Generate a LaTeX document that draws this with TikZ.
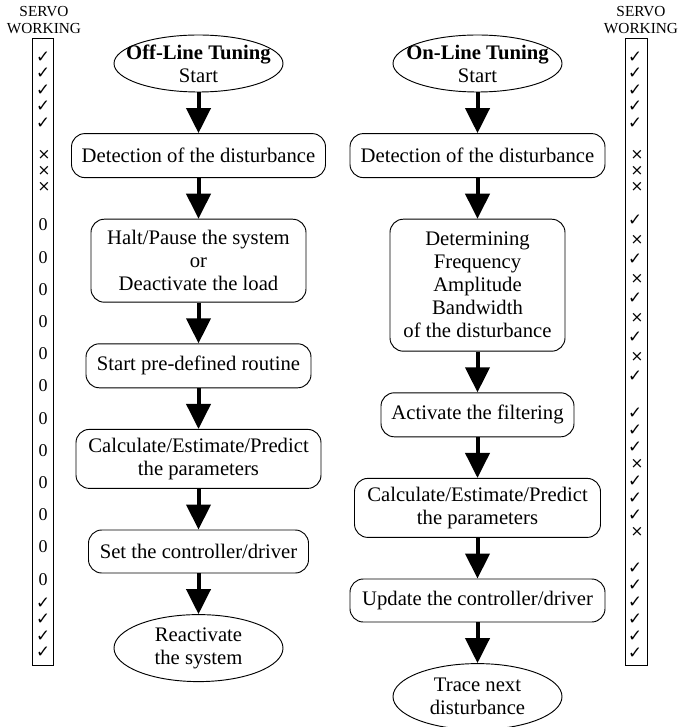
\documentclass[tikz,border=0pt]{standalone}
\usepackage{fontspec}
\setmainfont{Liberation Serif}
\newfontfamily\marksfont{DejaVu Sans}
\usetikzlibrary{positioning,shapes.geometric,arrows.meta}

\begin{document}
\begin{tikzpicture}[
   x=0.75pt,y=-0.75pt,
   font=\fontsize{15.5}{17.25}\selectfont,
   node distance=30.5pt,
   proc/.style={draw,line width=0.7pt,rounded corners=10pt,inner sep=2pt,align=center},
   term/.style={draw,line width=0.7pt,ellipse,inner sep=0pt,minimum width=126.75pt},
   flow/.style={-{Triangle[length=18.75pt,width=18pt]},line width=3pt},
   servo/.style={draw,line width=0.7pt,minimum width=16pt,minimum height=470.25pt,inner sep=0pt},
   servolab/.style={align=center,font=\fontsize{11.5}{12.75}\selectfont},
   ok/.style={font=\marksfont\fontsize{12.5}{12.5}\selectfont,inner sep=0pt},
   no/.style={font=\marksfont\fontsize{11.5}{11.5}\selectfont,inner sep=0pt},
   idle/.style={font=\fontsize{13.5}{13.5}\selectfont,inner sep=0pt}]
\useasboundingbox (0,0) rectangle (681,727);

% off-line tuning
\node[term,minimum height=42.75pt] (l0) at (198.5,63.5) {};
\node[align=center] (l0t) at (l0) {\textbf{Off-Line Tuning}\\Start};
\node[proc,below=of l0,minimum width=190.5pt,minimum height=33pt] (l1) {Detection of the disturbance};
\node[proc,below=of l1,minimum width=161.25pt,minimum height=62.25pt] (l2) {Halt/Pause the system\\or\\Deactivate the load};
\node[proc,below=of l2,minimum width=168.75pt,minimum height=33pt] (l3) {Start pre-defined routine};
\node[proc,below=of l3,minimum width=183.75pt,minimum height=44.25pt] (l4) {Calculate/Estimate/Predict\\the parameters};
\node[proc,below=of l4,minimum width=165pt,minimum height=32.25pt] (l5) {Set the controller/driver};
\node[term,below=of l5,minimum height=50.25pt] (l6) {};
\node[align=center] (l6t) at (l6) {Reactivate\\the system};

% on-line tuning
\node[term,minimum height=42.75pt] (r0) at (477.5,63.5) {};
\node[align=center] (r0t) at (r0) {\textbf{On-Line Tuning}\\Start};
\node[proc,below=of r0,minimum width=191.25pt,minimum height=33pt] (r1) {Detection of the disturbance};
\node[proc,below=of r1,minimum width=131.25pt,minimum height=99pt] (r2) {Determining\\Frequency\\Amplitude\\Bandwidth\\of the disturbance};
\node[proc,below=of r2,minimum width=144.75pt,minimum height=33pt] (r3) {Activate the filtering};
\node[proc,below=of r3,minimum width=184.5pt,minimum height=44.25pt] (r4) {Calculate/Estimate/Predict\\the parameters};
\node[proc,below=of r4,minimum width=191.25pt,minimum height=32.25pt] (r5) {Update the controller/driver};
\node[term,below=of r5,minimum height=49.5pt] (r6) {};
\node[align=center] (r6t) at (r6) {Trace next\\disturbance};

\foreach \a/\b in {l0/l1,l1/l2,l2/l3,l3/l4,l4/l5,l5/l6,r0/r1,r1/r2,r2/r3,r3/r4,r4/r5,r5/r6}
  \draw[flow] (\a) -- (\b);

% servo columns
\node[servo] (lcol) at (43,351.5) {};
\node[servolab] (llab) at (44,20.5) {SERVO\\WORKING};
\foreach \y [count=\i] in {57,73.5,90,106.5,123,603,619.5,636,652.5}
  \node[ok] (lok\i) at (43,\y) {✓};
\foreach \y [count=\i] in {155,171,187}
  \node[no] (lno\i) at (44,\y) {×};
\foreach \i in {0,...,11}
  \node[idle] (lidle\i) at (43,{225+32.2*\i}) {0};

\node[servo] (rcol) at (636.5,351.5) {};
\node[servolab] (rlab) at (641,20.5) {SERVO\\WORKING};
\foreach \y [count=\i] in {57,73.5,90,106.5,123,220,259,298,337,376,413,430,447,481,498,515,568,585,602,619,636,653}
  \node[ok] (rok\i) at (635,\y) {✓};
\foreach \y [count=\i] in {155,171,187,239.5,278.5,317.5,356.5,464,532}
  \node[no] (rno\i) at (637,\y) {×};
\end{tikzpicture}
\end{document}
